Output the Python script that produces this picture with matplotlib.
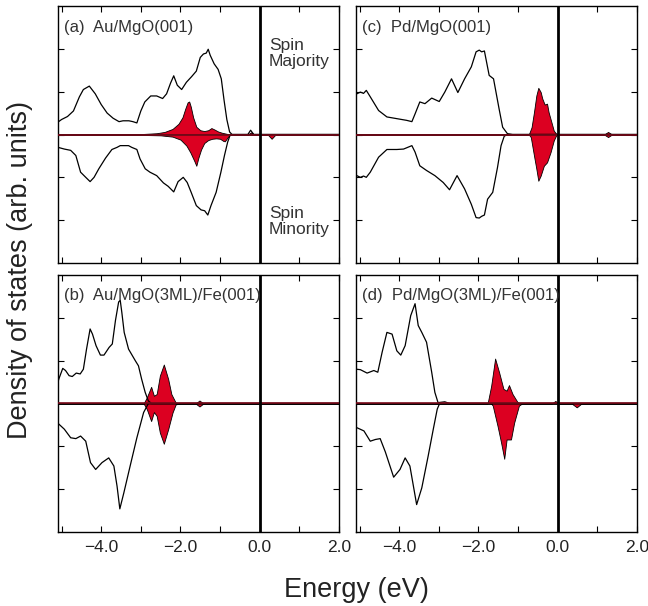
import matplotlib
matplotlib.use("Agg")
import matplotlib.pyplot as plt
import numpy as np

plt.rcParams['font.family'] = ['Liberation Sans', 'DejaVu Sans']

# ---------------- data (energy in eV, DOS in arb. units) ----------------
# Panel (a) Au/MgO(001)
a_maj_x = [-5.09, -5.0, -4.85, -4.7, -4.55, -4.45, -4.3, -4.15, -4.0, -3.85, -3.7, -3.55, -3.45, -3.3,
           -3.2, -3.1, -3.0, -2.9, -2.75, -2.6, -2.45, -2.35, -2.25, -2.17, -2.08, -1.97, -1.85, -1.72,
           -1.6, -1.5, -1.42, -1.35, -1.3, -1.25, -1.15, -1.05, -0.97, -0.9, -0.83, -0.76, -0.7, -0.5,
           -0.3, -0.23, -0.15, 0.0, 2.0]
a_maj_y = [0.29, 0.35, 0.42, 0.55, 0.88, 1.05, 1.13, 0.95, 0.70, 0.50, 0.38, 0.30, 0.32, 0.32,
           0.30, 0.27, 0.55, 0.76, 0.90, 0.90, 0.84, 0.95, 1.20, 1.37, 1.15, 1.05, 1.22, 1.35,
           1.48, 1.80, 1.88, 1.90, 1.99, 1.85, 1.65, 1.52, 1.30, 0.80, 0.35, 0.06, 0.0, 0.0,
           0.0, 0.10, 0.0, 0.0, 0.0]
a_min_x = [-5.09, -4.93, -4.77, -4.64, -4.52, -4.39, -4.28, -4.18, -4.06, -3.89, -3.73, -3.6, -3.52,
           -3.43, -3.31, -3.23, -3.1, -3.02, -2.89, -2.77, -2.6, -2.43, -2.31, -2.17, -2.06, -1.93,
           -1.83, -1.73, -1.6, -1.48, -1.39, -1.31, -1.23, -1.1, -0.98, -0.89, -0.81, -0.75, -0.7, 2.0]
a_min_y = [-0.30, -0.34, -0.37, -0.49, -0.88, -1.0, -1.10, -1.0, -0.80, -0.55, -0.35, -0.30, -0.26,
           -0.26, -0.26, -0.30, -0.35, -0.57, -0.80, -0.88, -0.96, -1.13, -1.21, -1.34, -1.10, -1.0,
           -1.12, -1.35, -1.66, -1.76, -1.78, -1.88, -1.66, -1.35, -0.88, -0.49, -0.18, -0.02, 0.0, 0.0]
a_red_maj_x = [-5.09, -3.0, -2.6, -2.4, -2.2, -2.05, -1.95, -1.88, -1.82, -1.78, -1.74, -1.68, -1.6,
               -1.5, -1.4, -1.3, -1.22, -1.15, -1.05, -0.95, -0.85, -0.75, -0.3, -0.22, -0.14, 2.0]
a_red_maj_y = [0.0, 0.01, 0.03, 0.06, 0.13, 0.25, 0.40, 0.60, 0.75, 0.77, 0.65, 0.40, 0.18,
               0.10, 0.08, 0.10, 0.15, 0.12, 0.07, 0.04, 0.02, 0.0, 0.0, 0.05, 0.0, 0.0]
a_red_min_x = [-5.09, -3.0, -2.5, -2.2, -2.0, -1.85, -1.75, -1.65, -1.6, -1.55, -1.48, -1.4, -1.3,
               -1.2, -1.1, -1.0, -0.92, -0.88, -0.82, -0.75, 0.2, 0.3, 0.4, 2.0]
a_red_min_y = [0.0, -0.01, -0.02, -0.05, -0.12, -0.26, -0.42, -0.62, -0.73, -0.55, -0.35, -0.20, -0.13,
               -0.10, -0.09, -0.10, -0.15, -0.16, -0.08, 0.0, 0.0, -0.10, 0.0, 0.0]

# Panel (b) Au/MgO(3ML)/Fe(001)
b_maj_x = [-5.09, -5.07, -4.97, -4.9, -4.81, -4.73, -4.63, -4.53, -4.45, -4.37, -4.28, -4.22, -4.13,
           -4.02, -3.93, -3.8, -3.72, -3.64, -3.56, -3.52, -3.48, -3.42, -3.31, -3.14, -3.06, -2.98,
           -2.89, -2.81, -2.73, 2.0]
b_maj_y = [0.50, 0.57, 0.82, 0.77, 0.65, 0.63, 0.71, 0.69, 0.80, 1.27, 1.74, 1.62, 1.35,
           1.13, 1.13, 1.31, 1.39, 1.94, 2.37, 2.41, 2.13, 1.66, 1.27, 1.0, 0.88, 0.57,
           0.26, 0.06, 0.0, 0.0]
b_min_x = [-5.09, -5.07, -4.93, -4.77, -4.64, -4.52, -4.39, -4.27, -4.14, -3.98, -3.81, -3.68, -3.6,
           -3.53, -3.43, -3.27, -3.1, -2.93, -2.81, 2.0]
b_min_y = [-0.46, -0.48, -0.60, -0.80, -0.82, -0.76, -0.88, -1.38, -1.54, -1.38, -1.27, -1.46, -1.93,
           -2.46, -2.09, -1.46, -0.80, -0.21, 0.0, 0.0]
b_red_maj_x = [-5.09, -2.93, -2.85, -2.74, -2.67, -2.6, -2.52, -2.42, -2.31, -2.23, -2.12, -2.0,
               -1.62, -1.52, -1.42, 2.0]
b_red_maj_y = [0.0, 0.0, 0.14, 0.39, 0.18, 0.22, 0.65, 0.91, 0.57, 0.22, 0.02, 0.0,
               0.0, 0.07, 0.0, 0.0]
b_red_min_x = [-5.09, -2.93, -2.85, -2.74, -2.67, -2.6, -2.52, -2.42, -2.31, -2.2, -2.12, -2.0,
               -1.62, -1.52, -1.42, 2.0]
b_red_min_y = [0.0, 0.0, -0.13, -0.41, -0.20, -0.29, -0.68, -0.94, -0.60, -0.21, -0.02, 0.0,
               0.0, -0.07, 0.0, 0.0]

# Panel (c) Pd/MgO(001)
c_maj_x = [-5.09, -5.07, -4.98, -4.9, -4.83, -4.73, -4.52, -4.31, -4.06, -3.81, -3.68, -3.6, -3.48,
           -3.35, -3.18, -2.99, -2.85, -2.68, -2.52, -2.35, -2.18, -2.06, -1.98, -1.92, -1.85, -1.73,
           -1.62, -1.48, -1.39, -1.27, -1.14, 2.0]
c_maj_y = [0.93, 0.95, 0.99, 0.96, 1.03, 0.88, 0.56, 0.41, 0.37, 0.33, 0.30, 0.48, 0.76,
           0.72, 0.85, 0.77, 0.99, 1.30, 0.98, 1.30, 1.58, 1.93, 1.97, 1.93, 1.95, 1.38,
           1.30, 0.60, 0.17, 0.02, 0.0, 0.0]
c_min_x = [-5.09, -5.07, -4.98, -4.9, -4.83, -4.73, -4.52, -4.31, -4.06, -3.89, -3.68, -3.6, -3.48,
           -3.31, -3.1, -2.89, -2.73, -2.54, -2.35, -2.18, -2.06, -1.98, -1.92, -1.85, -1.77, -1.64,
           -1.52, -1.43, -1.35, -1.27, 2.0]
c_min_y = [-0.94, -0.96, -1.0, -0.97, -1.0, -0.88, -0.53, -0.35, -0.35, -0.34, -0.26, -0.41, -0.73,
           -0.84, -0.96, -1.12, -1.29, -0.96, -1.27, -1.63, -1.94, -1.95, -1.91, -1.88, -1.51, -1.35,
           -0.77, -0.26, -0.04, 0.0, 0.0]
c_red_maj_x = [-5.09, -0.73, -0.66, -0.6, -0.54, -0.49, -0.43, -0.39, -0.33, -0.27, -0.23, -0.16,
               -0.1, -0.04, 0.0, 1.17, 1.27, 1.37, 2.0]
c_red_maj_y = [0.0, 0.0, 0.17, 0.52, 0.91, 1.09, 0.99, 0.84, 0.70, 0.72, 0.52, 0.29,
               0.09, 0.02, 0.0, 0.0, 0.06, 0.0, 0.0]
c_red_min_x = [-5.09, -0.73, -0.68, -0.6, -0.54, -0.49, -0.43, -0.35, -0.27, -0.18, -0.1, -0.04,
               0.0, 1.17, 1.27, 1.37, 2.0]
c_red_min_y = [0.0, 0.0, -0.06, -0.49, -0.80, -1.08, -0.96, -0.73, -0.65, -0.41, -0.14, -0.02,
               0.0, 0.0, -0.06, 0.0, 0.0]

# Panel (d) Pd/MgO(3ML)/Fe(001)
d_maj_x = [-5.09, -5.08, -4.98, -4.81, -4.64, -4.54, -4.43, -4.31, -4.18, -4.06, -3.96, -3.85, -3.71,
           -3.6, -3.52, -3.43, -3.31, -3.18, -3.1, -3.02, -2.85, -2.73, 2.0]
d_maj_y = [0.79, 0.80, 0.79, 0.71, 0.77, 0.73, 1.20, 1.66, 1.62, 1.23, 1.13, 1.35, 2.05,
           2.33, 1.82, 1.66, 1.43, 0.73, 0.26, 0.02, 0.04, 0.0, 0.0]
d_min_x = [-5.09, -5.08, -4.89, -4.73, -4.6, -4.48, -4.35, -4.14, -3.98, -3.85, -3.73, -3.56, -3.43,
           -3.27, -3.14, -3.04, -2.98, 2.0]
d_min_y = [-0.55, -0.56, -0.64, -0.88, -0.84, -0.82, -1.13, -1.72, -1.54, -1.27, -1.46, -2.36, -1.97,
           -1.23, -0.60, -0.13, 0.0, 0.0]
d_red_maj_x = [-5.09, -1.77, -1.68, -1.58, -1.48, -1.37, -1.29, -1.23, -1.14, -1.02, -0.96,
               -0.15, -0.06, 0.02, 2.0]
d_red_maj_y = [0.0, 0.0, 0.41, 1.05, 0.73, 0.34, 0.30, 0.43, 0.22, 0.04, 0.0,
               0.0, 0.06, 0.0, 0.0]
d_red_min_x = [-5.09, -1.68, -1.64, -1.52, -1.43, -1.35, -1.29, -1.18, -1.1, -0.98, -0.9,
               0.35, 0.48, 0.6, 2.0]
d_red_min_y = [0.0, 0.0, -0.05, -0.52, -0.91, -1.29, -0.84, -0.84, -0.45, -0.05, 0.0,
               0.0, -0.09, 0.0, 0.0]

panel_titles = ["(a)  Au/MgO(001)", "(b)  Au/MgO(3ML)/Fe(001)",
                "(c)  Pd/MgO(001)", "(d)  Pd/MgO(3ML)/Fe(001)"]
x_ticks = [-4.0, -2.0, 0.0, 2.0]
x_tick_labels = ['\u22124.0', '\u22122.0', '0.0', '2.0']
x_minor = [-5.0, -3.0, -1.0, 1.0]
y_ticks = [-2, -1, 0, 1, 2]

panels = [
    (a_maj_x, a_maj_y, a_min_x, a_min_y, a_red_maj_x, a_red_maj_y, a_red_min_x, a_red_min_y),
    (b_maj_x, b_maj_y, b_min_x, b_min_y, b_red_maj_x, b_red_maj_y, b_red_min_x, b_red_min_y),
    (c_maj_x, c_maj_y, c_min_x, c_min_y, c_red_maj_x, c_red_maj_y, c_red_min_x, c_red_min_y),
    (d_maj_x, d_maj_y, d_min_x, d_min_y, d_red_maj_x, d_red_maj_y, d_red_min_x, d_red_min_y),
]

# ---------------- figure ----------------
W, H = 648, 606
fig = plt.figure(figsize=(W / 100, H / 100), dpi=100)

def px_axes(l, t, r, b):
    return fig.add_axes([l / W, 1 - b / H, (r - l) / W, (b - t) / H])

boxes = [(58, 6, 339, 263), (58, 275, 339, 532), (356, 6, 637, 263), (356, 275, 637, 532)]
RED = '#dc0021'

for i, (box, data, title) in enumerate(zip(boxes, panels, panel_titles)):
    ax = px_axes(*box)
    mx, my, nx, ny, rx, ry, sx, sy = data
    ax.fill_between(rx, 0, ry, facecolor=RED, edgecolor='black', linewidth=0.6, zorder=3)
    ax.fill_between(sx, 0, sy, facecolor=RED, edgecolor='black', linewidth=0.6, zorder=3)
    ax.plot(mx, my, color='black', lw=0.9, zorder=4)
    ax.plot(nx, ny, color='black', lw=0.9, zorder=4)
    ax.axhline(0, color='#7a0a1a', lw=1.2, zorder=5)
    ax.axvline(0, color='black', lw=2.0, zorder=6)
    ax.set_xlim(-5.09, 2.0)
    ax.set_ylim(-3.0, 3.0)
    ax.set_xticks(x_ticks)
    ax.set_xticks(x_minor, minor=True)
    ax.set_yticks(y_ticks)
    ax.set_yticklabels([])
    ax.tick_params(which='both', direction='in', top=True, right=True, length=4, width=0.8,
                   labelsize=12.5, pad=6, labelcolor='#222222')
    if i in (1, 3):
        ax.set_xticklabels(x_tick_labels)
    else:
        ax.set_xticklabels([])
    for s in ax.spines.values():
        s.set_linewidth(1.0)
    ax.text(0.021, 0.915 if i in (0, 2) else 0.922, title, transform=ax.transAxes,
            fontsize=12, color='#333333', va='center', ha='left', zorder=7)
    if i == 0:
        ax.text(0.75, 0.815, "Spin\nMajority", transform=ax.transAxes, fontsize=12.5,
                color='#333333', va='center', ha='left', linespacing=1.1)
        ax.text(0.75, 0.163, "Spin\nMinority", transform=ax.transAxes, fontsize=12.5,
                color='#333333', va='center', ha='left', linespacing=1.1)

fig.text(20 / W, 1 - 270 / H, "Density of states (arb. units)", rotation=90,
         fontsize=19.5, color='#222222', ha='center', va='center')
fig.text(356 / W, 1 - 590 / H, "Energy (eV)", fontsize=19.5, color='#222222',
         ha='center', va='center')

fig.savefig("out.png", dpi=100)
